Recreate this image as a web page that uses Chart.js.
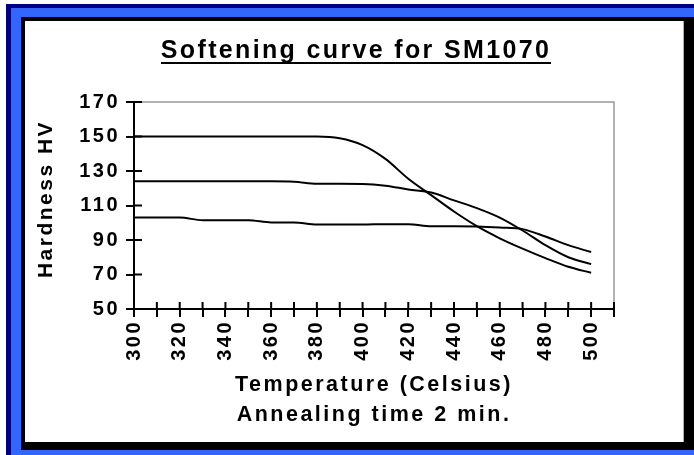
<!DOCTYPE html>
<html>
<head>
<meta charset="utf-8">
<script src="https://cdn.jsdelivr.net/npm/chart.js@4.4.1/dist/chart.umd.min.js"></script>
<style>
  html, body { margin: 0; padding: 0; background: #fff; }
  #page { position: relative; width: 694px; height: 455px; overflow: hidden; background: #fff;
          font-family: "Liberation Sans", Arial, sans-serif; }
  #frame { position: absolute; left: 6px; top: 4px; width: 688px; height: 451px; box-sizing: border-box;
           background: #3366ff; border-left: 5px solid #000080; border-top: 4px solid #000080; }
  #shadow { position: absolute; left: 21px; top: 17px; width: 673px; height: 433px; background: #000; }
  #panel { position: absolute; left: 25px; top: 21px; width: 659px; height: 421px; background: #fff;
           box-sizing: border-box; border-right: 1px solid #b0b0b0; }
  #panel canvas { position: absolute; left: 0; top: 0; }
  #title { position: absolute; left: 156px; top: 37px; width: 400px; text-align: center;
           font-size: 25px; line-height: 25px; font-weight: bold; white-space: nowrap; }
  #title span { display: inline-block; line-height: 25px; letter-spacing: 2.35px;
                border-bottom: 2.5px solid #000; }
  #ytitle { position: absolute; left: -55px; top: 187px; width: 200px; height: 24px; line-height: 24px;
            text-align: center; font-size: 21px; font-weight: bold; letter-spacing: 2.5px;
            white-space: nowrap; transform: rotate(-90deg); }
</style>
</head>
<body>
<div id="page">
  <div id="frame"></div>
  <div id="shadow"></div>
  <div id="panel"><canvas id="chart" width="659" height="421"></canvas></div>
  <div id="title"><span>Softening curve for SM1070</span></div>
  <div id="ytitle">Hardness HV</div>
</div>
<script>
// annealing temperatures (Celsius)
const temps = [300, 310, 320, 330, 340, 350, 360, 370, 380, 390, 400,
               410, 420, 430, 440, 450, 460, 470, 480, 490, 500];

// hardness HV
const hvHigh = [150, 150, 150, 150, 150, 150, 150, 150, 150, 149, 145,
                137, 125.5, 116, 106.5, 98, 91, 85, 79.5, 74.5, 71];
const hvMid = [124, 124, 124, 124, 124, 124, 124, 123.8, 122.6, 122.6, 122.5,
               121.5, 119.3, 117.5, 113, 108.5, 103, 95.5, 87, 80, 76];
const hvLow = [103, 103, 103, 101.5, 101.5, 101.5, 100.2, 100.2, 99, 99, 99,
               99.2, 99.2, 98, 98, 97.8, 97.2, 96.3, 92, 87, 83];

const xMin = 300, xMax = 510, xStep = 10;
const yMin = 50, yMax = 170, yStep = 20;

const fontFamily = '"Liberation Sans", Arial, sans-serif';

function curve(values) {
  return {
    data: temps.map((t, i) => ({ x: t, y: values[i] })),
    borderColor: "#000",
    borderWidth: 2,
    pointRadius: 0,
    fill: false,
    cubicInterpolationMode: "monotone",
  };
}

// wide bold lettering like the original
const spacing = {
  id: "spacing",
  beforeUpdate(chart) { chart.ctx.letterSpacing = "2.5px"; },
  beforeDraw(chart) { chart.ctx.letterSpacing = "2.5px"; },
};

// grey top/right frame and tick marks crossing into the plot
const frameTicks = {
  id: "frameTicks",
  beforeDatasetsDraw(chart) {
    const { ctx, chartArea: a, scales } = chart;
    ctx.save();
    ctx.strokeStyle = "#999";
    ctx.lineWidth = 1.5;
    ctx.beginPath();
    ctx.moveTo(a.left, a.top);
    ctx.lineTo(a.right, a.top);
    ctx.lineTo(a.right, a.bottom);
    ctx.stroke();

    ctx.strokeStyle = "#000";
    ctx.lineWidth = 2;
    ctx.beginPath();
    scales.x.ticks.forEach((t, i) => {
      const px = scales.x.getPixelForTick(i);
      ctx.moveTo(px, a.bottom);
      ctx.lineTo(px, a.bottom - 7);
    });
    scales.y.ticks.forEach((t, i) => {
      const py = scales.y.getPixelForTick(i);
      ctx.moveTo(a.left, py);
      ctx.lineTo(a.left + 8, py);
    });
    ctx.stroke();
    ctx.restore();
  },
};

new Chart(document.getElementById("chart"), {
  type: "line",
  data: { datasets: [curve(hvHigh), curve(hvMid), curve(hvLow)] },
  options: {
    responsive: false,
    animation: false,
    layout: { padding: { left: 29, right: 70, top: 81, bottom: 0 } },
    plugins: {
      legend: { display: false },
      tooltip: { enabled: false },
    },
    scales: {
      x: {
        type: "linear",
        min: xMin,
        max: xMax,
        afterFit: (s) => { s.height = 133; },
        border: { display: true, color: "#000", width: 2 },
        grid: { drawOnChartArea: false, tickLength: 8, color: "#000", lineWidth: 2 },
        ticks: {
          stepSize: xStep,
          maxTicksLimit: 40,
          autoSkip: false,
          minRotation: 90,
          maxRotation: 90,
          padding: 3,
          color: "#000",
          font: { family: fontFamily, size: 20, weight: "bold" },
          callback: (v) => (v % 20 === 0 && v <= 500 ? v : ""),
        },
        title: {
          display: true,
          text: ["Temperature (Celsius)", "Annealing time 2 min."],
          color: "#000",
          font: { family: fontFamily, size: 21.5, weight: "bold", lineHeight: "30px" },
          padding: { top: 0, bottom: 11.5 },
        },
      },
      y: {
        min: yMin,
        max: yMax,
        afterFit: (s) => { s.width = 80; },
        border: { display: true, color: "#000", width: 2 },
        grid: { drawOnChartArea: false, tickLength: 8, color: "#000", lineWidth: 2 },
        ticks: {
          stepSize: yStep,
          autoSkip: false,
          padding: 6,
          color: "#000",
          font: { family: fontFamily, size: 20, weight: "bold" },
        },
      },
    },
  },
  plugins: [spacing, frameTicks],
});
</script>
</body>
</html>
